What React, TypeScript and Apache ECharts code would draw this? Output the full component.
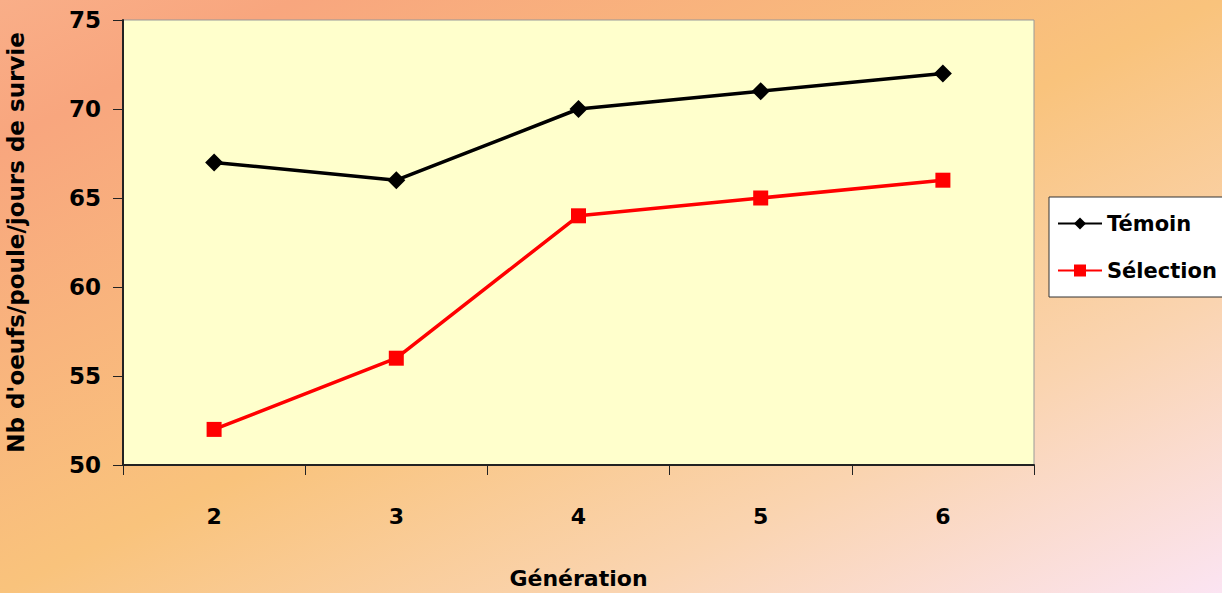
import React, { useEffect, useRef } from "react";
import * as echarts from "echarts";

const generations = ["2", "3", "4", "5", "6"];
const temoin = [67, 66, 70, 71, 72];
const selection = [52, 56, 64, 65, 66];
const yTicks = { min: 50, max: 75, interval: 5 };

const FONT = "'DejaVu Sans', sans-serif";

export default function App() {
  const ref = useRef<HTMLDivElement>(null);
  useEffect(() => {
    if (!ref.current) return;
    const chart = echarts.init(ref.current, undefined, { renderer: "svg" });
    chart.setOption({
      animation: false,
      backgroundColor: new echarts.graphic.LinearGradient(0, 0, 1, 1, [
        { offset: 0, color: "#F9AE88" },
        { offset: 0.12, color: "#F8A67E" },
        { offset: 0.5, color: "#F9C37C" },
        { offset: 0.75, color: "#FAD4B0" },
        { offset: 1, color: "#FBE4F2" },
      ]),
      grid: {
        left: 123,
        top: 20,
        width: 911,
        height: 445,
        show: true,
        backgroundColor: "#FFFFCC",
        borderColor: "#999999",
        borderWidth: 1,
        containLabel: false,
        outerBoundsMode: "none",
      },
      legend: {
        orient: "vertical",
        left: 1049,
        top: 197,
        backgroundColor: "#FFFFFF",
        borderColor: "#333333",
        borderWidth: 1,
        padding: [16, 8, 16, 8],
        itemGap: 26,
        itemWidth: 44,
        itemHeight: 15,
        textStyle: { fontFamily: FONT, fontWeight: "bold", fontSize: 21, color: "#000" },
        data: ["Témoin", "Sélection"],
      },
      xAxis: {
        type: "category",
        data: generations,
        boundaryGap: true,
        name: "Génération",
        nameLocation: "middle",
        nameGap: 102,
        nameTextStyle: { fontFamily: FONT, fontWeight: "bold", fontSize: 22, color: "#000" },
        axisLine: { lineStyle: { color: "#222", width: 2 } },
        axisTick: { show: true, length: 10, lineStyle: { color: "#222", width: 1 } },
        axisLabel: { margin: 40, fontFamily: FONT, fontWeight: "bold", fontSize: 22, color: "#000" },
        splitLine: { show: false },
      },
      yAxis: {
        type: "value",
        min: yTicks.min,
        max: yTicks.max,
        interval: yTicks.interval,
        name: "Nb d'oeufs/poule/jours de survie",
        nameLocation: "middle",
        nameGap: 96,
        nameTextStyle: { fontFamily: FONT, fontWeight: "bold", fontSize: 23, color: "#000" },
        axisLine: { show: true, lineStyle: { color: "#222", width: 2 } },
        axisTick: { show: true, length: 10, lineStyle: { color: "#222", width: 1 } },
        axisLabel: { margin: 22, fontFamily: FONT, fontWeight: "bold", fontSize: 23, color: "#000" },
        splitLine: { show: false },
      },
      series: [
        {
          name: "Témoin",
          type: "line",
          data: temoin,
          symbol: "diamond",
          symbolSize: 18,
          lineStyle: { color: "#000000", width: 3.5 },
          itemStyle: { color: "#000000" },
        },
        {
          name: "Sélection",
          type: "line",
          data: selection,
          symbol: "rect",
          symbolSize: 15,
          lineStyle: { color: "#FF0000", width: 3.5 },
          itemStyle: { color: "#FF0000" },
        },
      ],
    });
    return () => chart.dispose();
  }, []);
  return (
    <div
      ref={ref}
      style={{ position: "absolute", left: 0, top: 0, width: 1222, height: 593 }}
    />
  );
}
